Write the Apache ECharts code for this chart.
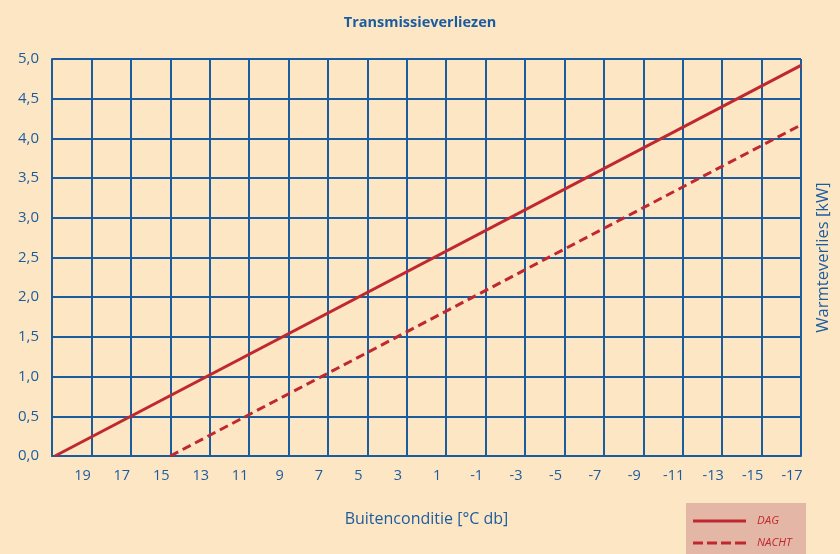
<!DOCTYPE html>
<html><head><meta charset="utf-8">
<script src="https://cdn.jsdelivr.net/npm/echarts@6/dist/echarts.min.js"></script>
<style>html,body{margin:0;padding:0;background:#fde6c4;}#c{width:840px;height:554px;}</style>
</head><body><div id="c"></div>
<script>
const titleText = 'Transmissieverliezen';
const xName = 'Buitenconditie [°C db]';
const yName = 'Warmteverlies [kW]';
const seriesNames = ['DAG', 'NACHT'];
const dagData = [[20.85, 0], [-17, 4.92]];
const nachtData = [[15, 0], [-17, 4.17]];
const xMin = -17, xMax = 21, xStep = 2;
const yMin = 0, yMax = 5, yStep = 0.5;

const blue = '#1b5c9f';
const red = '#c0282f';
const font = 'Open Sans';
const chart = echarts.init(document.getElementById('c'));
chart.setOption({
  backgroundColor: '#fde6c4',
  animation: false,
  title: { text: titleText, left: 'center', top: 10, textStyle: { color: blue, fontSize: 14.5, fontWeight: 'bold', fontFamily: font } },
  grid: { left: 52, right: 34, top: 59, bottom: 98 },
  graphic: [{ type: 'rect', left: 686, top: 503, shape: { width: 120, height: 51 }, style: { fill: '#e4b6a6' }, z: -1 }],
  legend: {
    orient: 'vertical', left: 686, top: 503, itemWidth: 53, itemHeight: 3, itemGap: 8,
    padding: [11, 10, 0, 7],
    textStyle: { color: red, fontStyle: 'italic', fontSize: 11.5, lineHeight: 14, fontFamily: font, padding: [0, 0, 0, 6] },
    data: [
      { name: seriesNames[0], icon: 'path://M0,0H53V3H0Z', itemStyle: { color: red, borderWidth: 0 } },
      { name: seriesNames[1], icon: 'path://M0,0h10v3h-10z M14,0h10v3h-10z M28,0h10v3h-10z M42,0h11v3h-11z', itemStyle: { color: red, borderWidth: 0 } }
    ]
  },
  xAxis: {
    type: 'value', inverse: true, min: xMin, max: xMax, interval: xStep,
    name: xName, nameLocation: 'middle', nameGap: 55,
    nameTextStyle: { color: blue, fontSize: 16, fontFamily: font },
    axisLine: { show: true, onZero: false, lineStyle: { color: blue, width: 2 } },
    axisTick: { show: false },
    axisLabel: { color: blue, fontSize: 14.5, fontFamily: font, margin: 12, padding: [0, 18, 0, 0],
      formatter: v => (v === xMax ? '' : String(v)) },
    splitLine: { show: true, lineStyle: { color: blue, width: 2 } }
  },
  yAxis: [{
    type: 'value', min: yMin, max: yMax, interval: yStep,
    axisLine: { show: true, onZero: false, lineStyle: { color: blue, width: 2 } },
    axisTick: { show: false },
    axisLabel: { color: blue, fontSize: 15, fontFamily: font, margin: 13, formatter: v => v.toFixed(1).replace('.', ',') },
    splitLine: { show: true, lineStyle: { color: blue, width: 2 } }
  }, {
    type: 'value', min: yMin, max: yMax, interval: yStep, position: 'right',
    name: yName, nameLocation: 'middle', nameGap: 14, nameRotate: 90,
    nameTextStyle: { color: blue, fontSize: 16.5, fontFamily: font },
    axisLine: { show: false, onZero: false }, axisTick: { show: false }, axisLabel: { show: false }, splitLine: { show: false }
  }],
  series: [
    { name: seriesNames[0], type: 'line', data: dagData, showSymbol: false, symbol: 'none', lineStyle: { color: red, width: 3 }, itemStyle: { color: red } },
    { name: seriesNames[1], type: 'line', data: nachtData, showSymbol: false, symbol: 'none', lineStyle: { color: red, width: 3, type: [9, 5] }, itemStyle: { color: red } }
  ]
});
</script></body></html>
